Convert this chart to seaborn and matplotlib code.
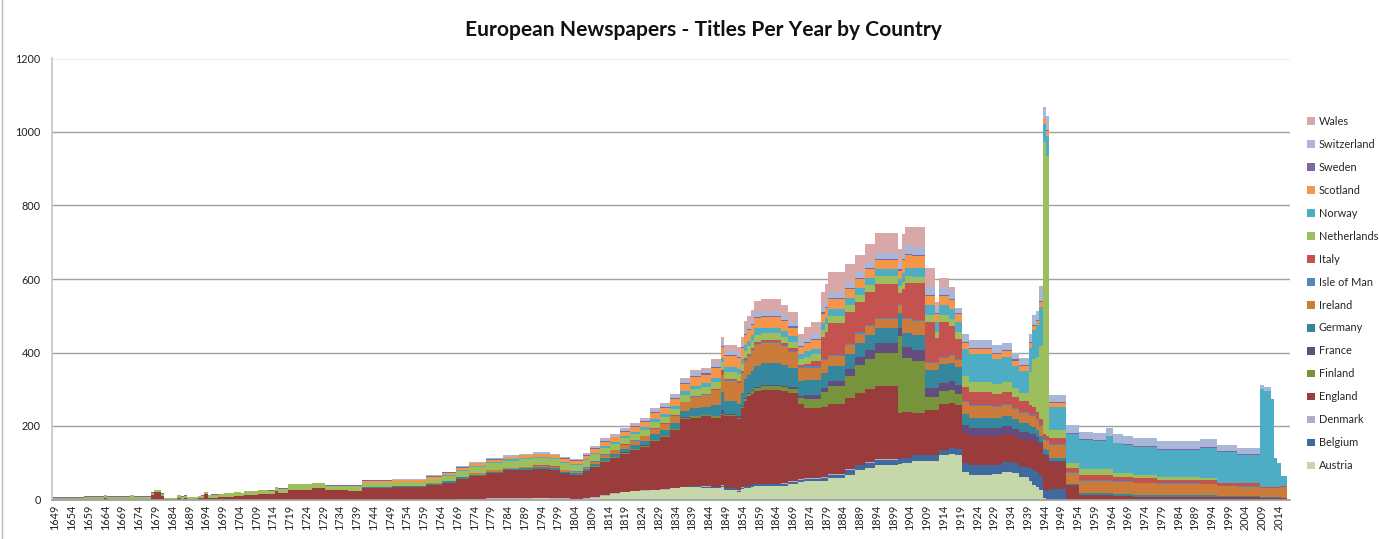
import numpy as np
import pandas as pd
import matplotlib
matplotlib.use("Agg")
import matplotlib.pyplot as plt
import seaborn as sns

# titles per year, written as (first year, value) runs
austria = [(1649, 0), (1769, 2), (1773, 1), (1778, 2), (1792, 3), (1797, 2), (1803, 1), (1807, 2), (1809, 5),
           (1812, 10), (1815, 16), (1818, 20), (1821, 22), (1824, 24), (1827, 26), (1830, 27), (1833, 30),
           (1836, 34), (1842, 32), (1845, 30), (1848, 35), (1849, 26), (1853, 20), (1854, 28), (1855, 32),
           (1857, 35), (1858, 36), (1866, 38), (1868, 42), (1871, 48), (1873, 50), (1880, 58), (1885, 68),
           (1888, 80), (1891, 86), (1894, 94), (1901, 97), (1902, 100), (1905, 105), (1913, 120), (1916, 124),
           (1918, 122), (1920, 76), (1922, 68), (1929, 70), (1932, 75), (1935, 72), (1937, 60), (1940, 50),
           (1941, 40), (1942, 35), (1943, 25), (1944, 5), (1945, 0)]
belgium = [(1649, 0), (1839, 2), (1842, 3), (1849, 4), (1858, 5), (1868, 6), (1873, 7), (1878, 8), (1880, 10),
           (1885, 12), (1888, 13), (1891, 14), (1905, 16), (1920, 24), (1922, 25), (1932, 26), (1937, 28),
           (1940, 35), (1941, 40), (1944, 20), (1945, 22), (1946, 28), (1951, 0)]
denmark = [(1649, 0), (1773, 1), (1860, 2), (1901, 0)]
england = [(1649, 0), (1664, 3), (1665, 0), (1678, 12), (1679, 20), (1681, 10), (1682, 0), (1686, 5), (1687, 2),
           (1688, 3), (1689, 0), (1692, 3), (1694, 14), (1695, 5), (1698, 6), (1700, 8), (1703, 10), (1705, 9),
           (1706, 12), (1710, 15), (1713, 14), (1715, 22), (1716, 19), (1719, 26), (1726, 30), (1730, 26),
           (1737, 24), (1741, 31), (1750, 35), (1760, 40), (1765, 46), (1769, 55), (1773, 62), (1778, 68),
           (1783, 74), (1788, 76), (1792, 78), (1797, 76), (1800, 66), (1803, 64), (1807, 72), (1809, 82),
           (1812, 92), (1815, 96), (1818, 104), (1821, 112), (1824, 118), (1827, 132), (1830, 142), (1833, 158),
           (1836, 184), (1839, 186), (1842, 190), (1845, 189), (1848, 192), (1849, 195), (1854, 215), (1855, 232),
           (1856, 244), (1857, 248), (1858, 252), (1860, 255), (1866, 250), (1868, 240), (1871, 205), (1873, 190),
           (1878, 192), (1880, 190), (1885, 195), (1891, 198), (1894, 200), (1901, 125), (1905, 115), (1909, 123),
           (1918, 120), (1920, 82), (1922, 80), (1929, 78), (1935, 75), (1941, 80), (1944, 95), (1946, 75),
           (1951, 40), (1955, 12), (1965, 10), (1971, 8), (1996, 6), (2009, 4), (2015, 3)]
finland = [(1649, 0), (1773, 1), (1809, 2), (1836, 3), (1855, 5), (1857, 8), (1858, 10), (1868, 12), (1871, 15),
           (1873, 25), (1878, 40), (1880, 48), (1885, 60), (1888, 75), (1891, 82), (1894, 90), (1901, 210),
           (1902, 145), (1905, 140), (1909, 36), (1918, 30), (1920, 0)]
france = [(1649, 0), (1778, 1), (1824, 2), (1848, 10), (1849, 3), (1868, 5), (1871, 6), (1873, 10), (1878, 12),
          (1880, 14), (1885, 18), (1888, 22), (1891, 24), (1894, 25), (1901, 22), (1902, 30), (1905, 32),
          (1909, 23), (1920, 22), (1935, 20), (1940, 18), (1942, 15), (1943, 12), (1944, 5), (1946, 3), (1951, 0)]
germany = [(1649, 0), (1741, 2), (1765, 3), (1783, 4), (1807, 5), (1809, 6), (1812, 8), (1815, 9), (1818, 10),
           (1821, 11), (1824, 12), (1827, 14), (1830, 15), (1833, 16), (1836, 18), (1839, 22), (1845, 28),
           (1848, 48), (1849, 35), (1855, 50), (1858, 55), (1860, 60), (1866, 58), (1868, 50), (1871, 40),
           (1891, 42), (1901, 40), (1909, 50), (1920, 28), (1922, 27), (1929, 26), (1935, 25), (1937, 24),
           (1940, 22), (1941, 20), (1942, 18), (1943, 15), (1944, 12), (1946, 7), (1951, 3), (1955, 6), (1965, 5),
           (1971, 4), (1991, 3), (2009, 2)]
ireland = [(1649, 0), (1750, 1), (1760, 2), (1773, 3), (1800, 4), (1807, 5), (1809, 6), (1812, 8), (1815, 9),
           (1818, 10), (1821, 11), (1824, 13), (1827, 15), (1830, 16), (1833, 18), (1836, 22), (1839, 30),
           (1842, 32), (1845, 42), (1848, 46), (1849, 55), (1855, 50), (1857, 55), (1858, 58), (1860, 55),
           (1866, 52), (1868, 45), (1871, 35), (1880, 28), (1885, 25), (1888, 24), (1901, 22), (1902, 37),
           (1909, 18), (1920, 33), (1922, 32), (1929, 30), (1935, 28), (1944, 25), (1946, 34), (1951, 28),
           (1955, 32), (1978, 30), (1996, 28), (2002, 26), (2009, 25), (2015, 28)]
isle_of_man = [(1649, 0), (1792, 1), (1849, 2), (1855, 3), (1858, 4), (1860, 3), (1880, 4), (1901, 3), (1920, 4),
               (1940, 3), (1946, 4), (1951, 3), (1965, 2), (1996, 1), (2009, 0)]
italy = [(1649, 0), (1792, 1), (1845, 2), (1848, 14), (1849, 4), (1858, 5), (1860, 4), (1868, 6), (1873, 8),
         (1875, 15), (1878, 60), (1879, 75), (1880, 85), (1888, 82), (1891, 88), (1894, 92), (1901, 30),
         (1902, 80), (1903, 95), (1905, 100), (1909, 110), (1912, 65), (1913, 95), (1916, 80), (1918, 55),
         (1920, 38), (1922, 35), (1929, 32), (1935, 30), (1937, 28), (1940, 25), (1941, 22), (1942, 20),
         (1943, 15), (1944, 12), (1946, 16), (1951, 13), (1965, 12), (1978, 10), (1996, 8), (2009, 3)]
netherlands = [(1649, 5), (1658, 8), (1672, 12), (1673, 8), (1678, 7), (1679, 6), (1682, 4), (1686, 7), (1687, 6),
               (1688, 7), (1689, 6), (1693, 7), (1694, 6), (1695, 7), (1696, 8), (1698, 9), (1703, 10),
               (1705, 9), (1706, 11), (1713, 10), (1715, 11), (1716, 10), (1719, 15), (1726, 14), (1730, 12),
               (1741, 13), (1750, 10), (1760, 12), (1765, 13), (1769, 16), (1773, 18), (1778, 20), (1788, 22),
               (1792, 20), (1800, 18), (1803, 16), (1807, 18), (1812, 17), (1815, 16), (1827, 17), (1836, 18),
               (1848, 20), (1855, 21), (1858, 19), (1866, 18), (1871, 16), (1873, 18), (1878, 20), (1901, 18),
               (1918, 20), (1920, 28), (1922, 27), (1929, 26), (1935, 24), (1940, 90), (1941, 130), (1942, 150),
               (1943, 200), (1944, 795), (1945, 760), (1946, 23), (1951, 12), (1955, 16), (1965, 12), (1971, 10),
               (1978, 8), (1991, 5), (1996, 0)]
norway = [(1649, 0), (1760, 1), (1765, 2), (1769, 3), (1809, 4), (1812, 5), (1818, 6), (1824, 7), (1827, 8),
          (1833, 9), (1836, 10), (1842, 11), (1849, 12), (1855, 15), (1858, 18), (1860, 16), (1866, 15),
          (1871, 13), (1873, 15), (1878, 18), (1880, 19), (1891, 20), (1902, 23), (1909, 27), (1920, 75),
          (1929, 70), (1935, 60), (1937, 58), (1940, 65), (1941, 80), (1942, 85), (1943, 105), (1944, 50),
          (1945, 55), (1946, 61), (1951, 80), (1959, 77), (1963, 90), (1965, 80), (1968, 76), (1971, 75),
          (1978, 74), (1991, 83), (2002, 78), (2009, 266), (2010, 260), (2012, 240), (2013, 79), (2014, 66),
          (2015, 28)]
scotland = [(1649, 0), (1737, 1), (1741, 4), (1760, 5), (1765, 6), (1788, 7), (1800, 8), (1809, 10), (1812, 11),
            (1815, 12), (1818, 13), (1821, 14), (1824, 15), (1827, 17), (1833, 18), (1836, 20), (1839, 24),
            (1845, 28), (1848, 30), (1855, 28), (1866, 27), (1868, 24), (1871, 20), (1873, 22), (1875, 24),
            (1878, 26), (1880, 27), (1885, 25), (1888, 24), (1901, 22), (1902, 36), (1905, 33), (1909, 25),
            (1912, 20), (1913, 25), (1918, 20), (1920, 15), (1929, 14), (1940, 15), (1941, 12), (1943, 15),
            (1946, 12), (1951, 0)]
sweden = [(1649, 1), (1719, 2), (1827, 3), (1944, 2), (1946, 1), (1951, 2), (2009, 0)]
switzerland = [(1649, 0), (1741, 1), (1750, 2), (1769, 3), (1807, 4), (1809, 5), (1821, 6), (1827, 7), (1833, 8),
               (1839, 9), (1845, 11), (1848, 14), (1849, 12), (1855, 13), (1858, 15), (1860, 14), (1868, 13),
               (1871, 12), (1878, 15), (1880, 16), (1901, 15), (1902, 23), (1905, 22), (1909, 20), (1912, 10),
               (1913, 20), (1918, 15), (1920, 21), (1922, 22), (1929, 20), (1935, 18), (1937, 20), (1941, 25),
               (1943, 40), (1944, 28), (1945, 37), (1946, 20), (1951, 22), (1955, 21), (1965, 22), (1996, 18),
               (2002, 16), (2009, 12), (2012, 0)]
wales = [(1649, 0), (1800, 1), (1807, 2), (1818, 3), (1830, 4), (1836, 5), (1839, 6), (1842, 7), (1845, 10),
         (1848, 12), (1849, 15), (1855, 22), (1857, 24), (1858, 27), (1860, 32), (1866, 28), (1868, 27),
         (1871, 20), (1873, 30), (1875, 35), (1878, 40), (1879, 48), (1880, 56), (1885, 50), (1888, 45),
         (1891, 48), (1894, 55), (1901, 40), (1902, 45), (1903, 50), (1905, 55), (1909, 53), (1912, 20),
         (1913, 25), (1916, 12), (1918, 0)]

countries = ["Austria", "Belgium", "Denmark", "England", "Finland", "France", "Germany", "Ireland",
             "Isle of Man", "Italy", "Netherlands", "Norway", "Scotland", "Sweden", "Switzerland", "Wales"]
runs = [austria, belgium, denmark, england, finland, france, germany, ireland,
        isle_of_man, italy, netherlands, norway, scotland, sweden, switzerland, wales]
colors = ["#C6D8AA", "#3F6AA0", "#B7A9CA", "#9A3C3B", "#77933C", "#624D7E", "#34879C", "#CB7B3A",
          "#5586C0", "#C4524F", "#9DBE5D", "#4CADC5", "#F5964A", "#8066A2", "#A8B7D8", "#D9A7A7"]

years = list(range(1649, 2017))


def expand(r):
    out = []
    for (y0, v), (y1, _) in zip(r, r[1:] + [(2017, None)]):
        out += [v] * (y1 - y0)
    return out


rows = []
for name, r in zip(countries, runs):
    for yr, v in zip(years, expand(r)):
        rows.append((yr, name, v))
df = pd.DataFrame(rows, columns=["year", "country", "titles"])

sns.set_theme(style="white")
plt.rcParams["font.family"] = ["Lato", "DejaVu Sans"]

fig = plt.figure(figsize=(13.79, 5.39), dpi=100)
ax = fig.add_axes([52 / 1379, 1 - 499.5 / 539, 1238 / 1379, 441 / 539])

# seaborn stacks the last hue level at the bottom, so pass the order top -> bottom
order = countries[::-1]
sns.histplot(df, x="year", weights="titles", hue="country", hue_order=order,
             palette=dict(zip(countries, colors)), multiple="stack", discrete=True,
             shrink=1, element="bars", alpha=1, linewidth=0, antialiased=False, ax=ax)

ax.set_xlim(1648.1, 2017.3)
ax.set_ylim(0, 1200)
ax.set_yticks(range(0, 1201, 200))
ax.set_xticks(range(1649, 2017, 5))
ax.set_xticklabels([str(y) for y in range(1649, 2017, 5)], rotation=90)
ax.tick_params(axis="both", length=0, labelsize=7.8, colors="#222222")
ax.tick_params(axis="y", pad=8)
ax.tick_params(axis="x", pad=4)
ax.set_xlabel("")
ax.set_ylabel("")
ax.yaxis.grid(True, color="#A0A0A0", linewidth=1)
ax.set_axisbelow(True)
for s in ["top", "right"]:
    ax.spines[s].set_visible(False)
ax.spines["left"].set_color("#C8C8C8")
ax.spines["bottom"].set_color("#A0A0A0")

sns.move_legend(ax, "center left", bbox_to_anchor=(1.014, 0.467), frameon=False, title=None,
                fontsize=7.9, handlelength=0.72, handleheight=0.72, handletextpad=0.3,
                labelspacing=1.09, borderpad=0, borderaxespad=0)

fig.text(0.51, 1 - 30 / 539, "European Newspapers - Titles Per Year by Country",
         ha="center", va="center", fontsize=15.1, fontweight="bold", color="#111111")
fig.add_artist(plt.Line2D([2 / 1379, 2 / 1379], [0, 1], color="#BBBBBB", linewidth=1))

fig.savefig("out.png", dpi=100)
